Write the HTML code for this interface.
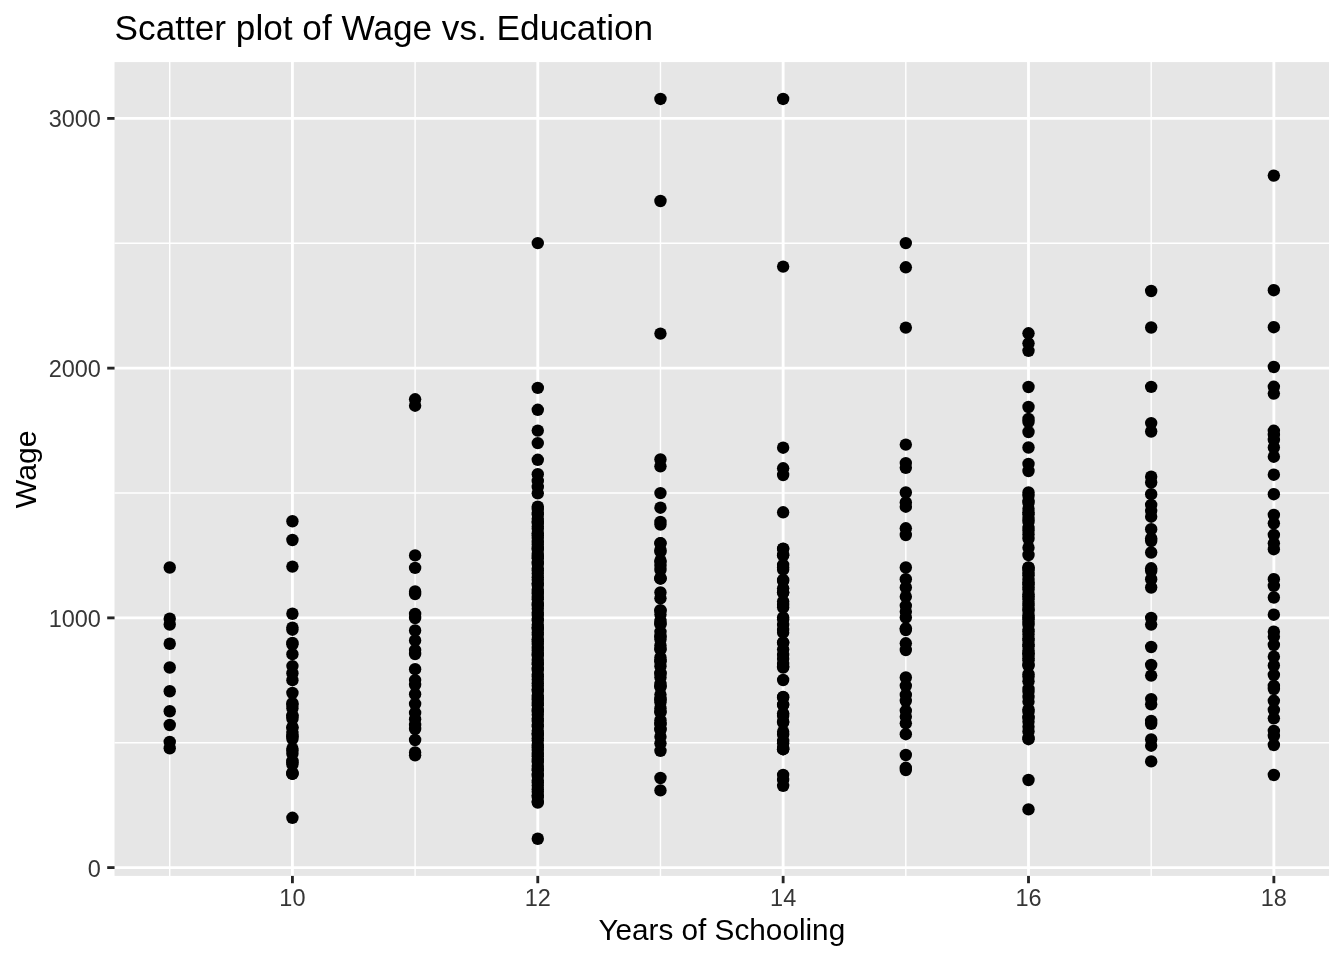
<!DOCTYPE html>
<html><head><meta charset="utf-8"><title>Scatter plot of Wage vs. Education</title>
<style>html,body{margin:0;padding:0;background:#fff;width:1344px;height:960px;overflow:hidden}svg{display:block;will-change:transform}text{font-family:"Liberation Sans",sans-serif}</style>
</head><body>
<svg width="1344" height="960" viewBox="0 0 1344 960" font-family="Liberation Sans, sans-serif"><rect x="0" y="0" width="1344" height="960" fill="#FFFFFF"/>
<rect x="114.53" y="62.1" width="1214.54" height="813.80" fill="#E6E6E6"/>
<line x1="169.74" y1="62.1" x2="169.74" y2="875.9" stroke="#FFFFFF" stroke-width="1.42"/>
<line x1="415.10" y1="62.1" x2="415.10" y2="875.9" stroke="#FFFFFF" stroke-width="1.42"/>
<line x1="660.46" y1="62.1" x2="660.46" y2="875.9" stroke="#FFFFFF" stroke-width="1.42"/>
<line x1="905.82" y1="62.1" x2="905.82" y2="875.9" stroke="#FFFFFF" stroke-width="1.42"/>
<line x1="1151.18" y1="62.1" x2="1151.18" y2="875.9" stroke="#FFFFFF" stroke-width="1.42"/>
<line x1="114.53" y1="742.74" x2="1329.07" y2="742.74" stroke="#FFFFFF" stroke-width="1.42"/>
<line x1="114.53" y1="493.00" x2="1329.07" y2="493.00" stroke="#FFFFFF" stroke-width="1.42"/>
<line x1="114.53" y1="243.27" x2="1329.07" y2="243.27" stroke="#FFFFFF" stroke-width="1.42"/>
<line x1="292.42" y1="62.1" x2="292.42" y2="875.9" stroke="#FFFFFF" stroke-width="2.84"/>
<line x1="537.78" y1="62.1" x2="537.78" y2="875.9" stroke="#FFFFFF" stroke-width="2.84"/>
<line x1="783.14" y1="62.1" x2="783.14" y2="875.9" stroke="#FFFFFF" stroke-width="2.84"/>
<line x1="1028.50" y1="62.1" x2="1028.50" y2="875.9" stroke="#FFFFFF" stroke-width="2.84"/>
<line x1="1273.86" y1="62.1" x2="1273.86" y2="875.9" stroke="#FFFFFF" stroke-width="2.84"/>
<line x1="114.53" y1="867.60" x2="1329.07" y2="867.60" stroke="#FFFFFF" stroke-width="2.84"/>
<line x1="114.53" y1="617.87" x2="1329.07" y2="617.87" stroke="#FFFFFF" stroke-width="2.84"/>
<line x1="114.53" y1="368.14" x2="1329.07" y2="368.14" stroke="#FFFFFF" stroke-width="2.84"/>
<line x1="114.53" y1="118.41" x2="1329.07" y2="118.41" stroke="#FFFFFF" stroke-width="2.84"/>
<g fill="#000000"><circle cx="169.74" cy="567.50" r="6.2"/><circle cx="169.74" cy="618.75" r="6.2"/><circle cx="169.74" cy="624.50" r="6.2"/><circle cx="169.74" cy="643.75" r="6.2"/><circle cx="169.74" cy="667.50" r="6.2"/><circle cx="169.74" cy="691.25" r="6.2"/><circle cx="169.74" cy="711.25" r="6.2"/><circle cx="169.74" cy="725.00" r="6.2"/><circle cx="169.74" cy="742.00" r="6.2"/><circle cx="169.74" cy="748.25" r="6.2"/><circle cx="292.42" cy="521.25" r="6.2"/><circle cx="292.42" cy="540.00" r="6.2"/><circle cx="292.42" cy="566.60" r="6.2"/><circle cx="292.42" cy="613.75" r="6.2"/><circle cx="292.42" cy="627.60" r="6.2"/><circle cx="292.42" cy="629.70" r="6.2"/><circle cx="292.42" cy="642.90" r="6.2"/><circle cx="292.42" cy="644.30" r="6.2"/><circle cx="292.42" cy="654.20" r="6.2"/><circle cx="292.42" cy="666.10" r="6.2"/><circle cx="292.42" cy="680.20" r="6.2"/><circle cx="292.42" cy="693.00" r="6.2"/><circle cx="292.42" cy="817.80" r="6.2"/><circle cx="292.42" cy="673.15" r="6.2"/><circle cx="292.42" cy="704.53" r="6.2"/><circle cx="292.42" cy="716.06" r="6.2"/><circle cx="292.42" cy="727.59" r="6.2"/><circle cx="292.42" cy="739.11" r="6.2"/><circle cx="292.42" cy="750.64" r="6.2"/><circle cx="292.42" cy="762.17" r="6.2"/><circle cx="292.42" cy="773.70" r="6.2"/><circle cx="292.42" cy="703.20" r="6.2"/><circle cx="292.42" cy="708.15" r="6.2"/><circle cx="292.42" cy="715.35" r="6.2"/><circle cx="292.42" cy="718.95" r="6.2"/><circle cx="292.42" cy="727.50" r="6.2"/><circle cx="292.42" cy="732.90" r="6.2"/><circle cx="292.42" cy="736.05" r="6.2"/><circle cx="292.42" cy="736.30" r="6.2"/><circle cx="292.42" cy="748.70" r="6.2"/><circle cx="292.42" cy="753.65" r="6.2"/><circle cx="292.42" cy="760.85" r="6.2"/><circle cx="292.42" cy="764.45" r="6.2"/><circle cx="292.42" cy="773.00" r="6.2"/><circle cx="292.42" cy="773.90" r="6.2"/><circle cx="415.10" cy="399.30" r="6.2"/><circle cx="415.10" cy="405.70" r="6.2"/><circle cx="415.10" cy="555.40" r="6.2"/><circle cx="415.10" cy="567.90" r="6.2"/><circle cx="415.10" cy="591.40" r="6.2"/><circle cx="415.10" cy="594.00" r="6.2"/><circle cx="415.10" cy="614.00" r="6.2"/><circle cx="415.10" cy="618.00" r="6.2"/><circle cx="415.10" cy="630.50" r="6.2"/><circle cx="415.10" cy="640.40" r="6.2"/><circle cx="415.10" cy="654.00" r="6.2"/><circle cx="415.10" cy="669.20" r="6.2"/><circle cx="415.10" cy="680.10" r="6.2"/><circle cx="415.10" cy="684.80" r="6.2"/><circle cx="415.10" cy="694.20" r="6.2"/><circle cx="415.10" cy="704.00" r="6.2"/><circle cx="415.10" cy="712.90" r="6.2"/><circle cx="415.10" cy="719.20" r="6.2"/><circle cx="415.10" cy="725.00" r="6.2"/><circle cx="415.10" cy="729.00" r="6.2"/><circle cx="415.10" cy="740.00" r="6.2"/><circle cx="415.10" cy="752.50" r="6.2"/><circle cx="415.10" cy="755.30" r="6.2"/><circle cx="415.10" cy="650.05" r="6.2"/><circle cx="537.78" cy="243.10" r="6.2"/><circle cx="537.78" cy="387.90" r="6.2"/><circle cx="537.78" cy="409.80" r="6.2"/><circle cx="537.78" cy="430.60" r="6.2"/><circle cx="537.78" cy="443.10" r="6.2"/><circle cx="537.78" cy="459.80" r="6.2"/><circle cx="537.78" cy="474.20" r="6.2"/><circle cx="537.78" cy="481.00" r="6.2"/><circle cx="537.78" cy="487.00" r="6.2"/><circle cx="537.78" cy="493.30" r="6.2"/><circle cx="537.78" cy="838.75" r="6.2"/><circle cx="537.78" cy="506.60" r="6.2"/><circle cx="537.78" cy="509.07" r="6.2"/><circle cx="537.78" cy="512.67" r="6.2"/><circle cx="537.78" cy="514.47" r="6.2"/><circle cx="537.78" cy="518.75" r="6.2"/><circle cx="537.78" cy="521.45" r="6.2"/><circle cx="537.78" cy="523.02" r="6.2"/><circle cx="537.78" cy="526.40" r="6.2"/><circle cx="537.78" cy="528.65" r="6.2"/><circle cx="537.78" cy="533.15" r="6.2"/><circle cx="537.78" cy="535.17" r="6.2"/><circle cx="537.78" cy="538.10" r="6.2"/><circle cx="537.78" cy="541.92" r="6.2"/><circle cx="537.78" cy="544.40" r="6.2"/><circle cx="537.78" cy="548.00" r="6.2"/><circle cx="537.78" cy="549.80" r="6.2"/><circle cx="537.78" cy="554.07" r="6.2"/><circle cx="537.78" cy="556.77" r="6.2"/><circle cx="537.78" cy="558.35" r="6.2"/><circle cx="537.78" cy="561.73" r="6.2"/><circle cx="537.78" cy="563.98" r="6.2"/><circle cx="537.78" cy="568.48" r="6.2"/><circle cx="537.78" cy="570.50" r="6.2"/><circle cx="537.78" cy="573.42" r="6.2"/><circle cx="537.78" cy="577.25" r="6.2"/><circle cx="537.78" cy="579.73" r="6.2"/><circle cx="537.78" cy="583.33" r="6.2"/><circle cx="537.78" cy="585.12" r="6.2"/><circle cx="537.78" cy="589.40" r="6.2"/><circle cx="537.78" cy="592.10" r="6.2"/><circle cx="537.78" cy="593.68" r="6.2"/><circle cx="537.78" cy="597.05" r="6.2"/><circle cx="537.78" cy="599.30" r="6.2"/><circle cx="537.78" cy="603.80" r="6.2"/><circle cx="537.78" cy="605.83" r="6.2"/><circle cx="537.78" cy="608.75" r="6.2"/><circle cx="537.78" cy="612.58" r="6.2"/><circle cx="537.78" cy="615.05" r="6.2"/><circle cx="537.78" cy="618.65" r="6.2"/><circle cx="537.78" cy="620.45" r="6.2"/><circle cx="537.78" cy="624.73" r="6.2"/><circle cx="537.78" cy="627.43" r="6.2"/><circle cx="537.78" cy="629.00" r="6.2"/><circle cx="537.78" cy="632.38" r="6.2"/><circle cx="537.78" cy="634.63" r="6.2"/><circle cx="537.78" cy="639.13" r="6.2"/><circle cx="537.78" cy="641.15" r="6.2"/><circle cx="537.78" cy="644.08" r="6.2"/><circle cx="537.78" cy="647.90" r="6.2"/><circle cx="537.78" cy="650.38" r="6.2"/><circle cx="537.78" cy="653.98" r="6.2"/><circle cx="537.78" cy="655.78" r="6.2"/><circle cx="537.78" cy="660.05" r="6.2"/><circle cx="537.78" cy="662.75" r="6.2"/><circle cx="537.78" cy="664.33" r="6.2"/><circle cx="537.78" cy="667.70" r="6.2"/><circle cx="537.78" cy="669.95" r="6.2"/><circle cx="537.78" cy="674.45" r="6.2"/><circle cx="537.78" cy="676.48" r="6.2"/><circle cx="537.78" cy="679.40" r="6.2"/><circle cx="537.78" cy="683.23" r="6.2"/><circle cx="537.78" cy="685.70" r="6.2"/><circle cx="537.78" cy="689.30" r="6.2"/><circle cx="537.78" cy="691.10" r="6.2"/><circle cx="537.78" cy="695.38" r="6.2"/><circle cx="537.78" cy="698.08" r="6.2"/><circle cx="537.78" cy="699.65" r="6.2"/><circle cx="537.78" cy="703.03" r="6.2"/><circle cx="537.78" cy="705.28" r="6.2"/><circle cx="537.78" cy="709.78" r="6.2"/><circle cx="537.78" cy="711.80" r="6.2"/><circle cx="537.78" cy="714.73" r="6.2"/><circle cx="537.78" cy="718.55" r="6.2"/><circle cx="537.78" cy="721.03" r="6.2"/><circle cx="537.78" cy="724.63" r="6.2"/><circle cx="537.78" cy="726.43" r="6.2"/><circle cx="537.78" cy="730.70" r="6.2"/><circle cx="537.78" cy="733.40" r="6.2"/><circle cx="537.78" cy="734.98" r="6.2"/><circle cx="537.78" cy="738.35" r="6.2"/><circle cx="537.78" cy="740.60" r="6.2"/><circle cx="537.78" cy="745.10" r="6.2"/><circle cx="537.78" cy="747.13" r="6.2"/><circle cx="537.78" cy="750.05" r="6.2"/><circle cx="537.78" cy="753.88" r="6.2"/><circle cx="537.78" cy="756.35" r="6.2"/><circle cx="537.78" cy="759.95" r="6.2"/><circle cx="537.78" cy="761.75" r="6.2"/><circle cx="537.78" cy="766.03" r="6.2"/><circle cx="537.78" cy="768.73" r="6.2"/><circle cx="537.78" cy="770.30" r="6.2"/><circle cx="537.78" cy="773.68" r="6.2"/><circle cx="537.78" cy="775.93" r="6.2"/><circle cx="537.78" cy="780.43" r="6.2"/><circle cx="537.78" cy="782.45" r="6.2"/><circle cx="537.78" cy="785.38" r="6.2"/><circle cx="537.78" cy="789.20" r="6.2"/><circle cx="537.78" cy="791.68" r="6.2"/><circle cx="537.78" cy="795.28" r="6.2"/><circle cx="537.78" cy="797.08" r="6.2"/><circle cx="537.78" cy="801.35" r="6.2"/><circle cx="537.78" cy="802.55" r="6.2"/><circle cx="660.46" cy="98.95" r="6.2"/><circle cx="660.46" cy="201.00" r="6.2"/><circle cx="660.46" cy="333.60" r="6.2"/><circle cx="660.46" cy="459.50" r="6.2"/><circle cx="660.46" cy="466.30" r="6.2"/><circle cx="660.46" cy="493.10" r="6.2"/><circle cx="660.46" cy="507.70" r="6.2"/><circle cx="660.46" cy="522.00" r="6.2"/><circle cx="660.46" cy="524.60" r="6.2"/><circle cx="660.46" cy="543.30" r="6.2"/><circle cx="660.46" cy="551.70" r="6.2"/><circle cx="660.46" cy="561.70" r="6.2"/><circle cx="660.46" cy="570.00" r="6.2"/><circle cx="660.46" cy="578.30" r="6.2"/><circle cx="660.46" cy="592.50" r="6.2"/><circle cx="660.46" cy="598.30" r="6.2"/><circle cx="660.46" cy="736.70" r="6.2"/><circle cx="660.46" cy="743.30" r="6.2"/><circle cx="660.46" cy="750.80" r="6.2"/><circle cx="660.46" cy="778.00" r="6.2"/><circle cx="660.46" cy="790.40" r="6.2"/><circle cx="660.46" cy="610.88" r="6.2"/><circle cx="660.46" cy="623.46" r="6.2"/><circle cx="660.46" cy="636.05" r="6.2"/><circle cx="660.46" cy="648.63" r="6.2"/><circle cx="660.46" cy="661.21" r="6.2"/><circle cx="660.46" cy="673.79" r="6.2"/><circle cx="660.46" cy="686.37" r="6.2"/><circle cx="660.46" cy="698.95" r="6.2"/><circle cx="660.46" cy="711.54" r="6.2"/><circle cx="660.46" cy="724.12" r="6.2"/><circle cx="660.46" cy="543.10" r="6.2"/><circle cx="660.46" cy="550.25" r="6.2"/><circle cx="660.46" cy="560.65" r="6.2"/><circle cx="660.46" cy="565.85" r="6.2"/><circle cx="660.46" cy="578.20" r="6.2"/><circle cx="660.46" cy="578.60" r="6.2"/><circle cx="660.46" cy="610.20" r="6.2"/><circle cx="660.46" cy="614.60" r="6.2"/><circle cx="660.46" cy="621.00" r="6.2"/><circle cx="660.46" cy="624.20" r="6.2"/><circle cx="660.46" cy="631.80" r="6.2"/><circle cx="660.46" cy="636.60" r="6.2"/><circle cx="660.46" cy="639.40" r="6.2"/><circle cx="660.46" cy="645.40" r="6.2"/><circle cx="660.46" cy="649.40" r="6.2"/><circle cx="660.46" cy="657.40" r="6.2"/><circle cx="660.46" cy="661.00" r="6.2"/><circle cx="660.46" cy="666.20" r="6.2"/><circle cx="660.46" cy="673.00" r="6.2"/><circle cx="660.46" cy="677.40" r="6.2"/><circle cx="660.46" cy="683.80" r="6.2"/><circle cx="660.46" cy="687.00" r="6.2"/><circle cx="660.46" cy="694.60" r="6.2"/><circle cx="660.46" cy="699.40" r="6.2"/><circle cx="660.46" cy="702.20" r="6.2"/><circle cx="660.46" cy="708.20" r="6.2"/><circle cx="660.46" cy="712.20" r="6.2"/><circle cx="660.46" cy="720.20" r="6.2"/><circle cx="660.46" cy="723.80" r="6.2"/><circle cx="660.46" cy="729.00" r="6.2"/><circle cx="660.46" cy="729.80" r="6.2"/><circle cx="783.14" cy="98.95" r="6.2"/><circle cx="783.14" cy="266.60" r="6.2"/><circle cx="783.14" cy="447.70" r="6.2"/><circle cx="783.14" cy="468.30" r="6.2"/><circle cx="783.14" cy="475.00" r="6.2"/><circle cx="783.14" cy="512.30" r="6.2"/><circle cx="783.14" cy="549.00" r="6.2"/><circle cx="783.14" cy="555.00" r="6.2"/><circle cx="783.14" cy="680.00" r="6.2"/><circle cx="783.14" cy="697.50" r="6.2"/><circle cx="783.14" cy="705.00" r="6.2"/><circle cx="783.14" cy="713.30" r="6.2"/><circle cx="783.14" cy="722.50" r="6.2"/><circle cx="783.14" cy="731.70" r="6.2"/><circle cx="783.14" cy="740.80" r="6.2"/><circle cx="783.14" cy="749.20" r="6.2"/><circle cx="783.14" cy="775.00" r="6.2"/><circle cx="783.14" cy="780.00" r="6.2"/><circle cx="783.14" cy="785.80" r="6.2"/><circle cx="783.14" cy="567.50" r="6.2"/><circle cx="783.14" cy="580.00" r="6.2"/><circle cx="783.14" cy="592.50" r="6.2"/><circle cx="783.14" cy="605.00" r="6.2"/><circle cx="783.14" cy="617.50" r="6.2"/><circle cx="783.14" cy="630.00" r="6.2"/><circle cx="783.14" cy="642.50" r="6.2"/><circle cx="783.14" cy="655.00" r="6.2"/><circle cx="783.14" cy="667.50" r="6.2"/><circle cx="783.14" cy="548.70" r="6.2"/><circle cx="783.14" cy="555.30" r="6.2"/><circle cx="783.14" cy="564.90" r="6.2"/><circle cx="783.14" cy="569.70" r="6.2"/><circle cx="783.14" cy="581.10" r="6.2"/><circle cx="783.14" cy="588.30" r="6.2"/><circle cx="783.14" cy="592.50" r="6.2"/><circle cx="783.14" cy="601.50" r="6.2"/><circle cx="783.14" cy="607.50" r="6.2"/><circle cx="783.14" cy="619.50" r="6.2"/><circle cx="783.14" cy="624.90" r="6.2"/><circle cx="783.14" cy="632.70" r="6.2"/><circle cx="783.14" cy="642.90" r="6.2"/><circle cx="783.14" cy="649.50" r="6.2"/><circle cx="783.14" cy="659.10" r="6.2"/><circle cx="783.14" cy="663.90" r="6.2"/><circle cx="783.14" cy="666.30" r="6.2"/><circle cx="783.14" cy="697.00" r="6.2"/><circle cx="783.14" cy="704.70" r="6.2"/><circle cx="783.14" cy="715.90" r="6.2"/><circle cx="783.14" cy="721.50" r="6.2"/><circle cx="783.14" cy="734.80" r="6.2"/><circle cx="783.14" cy="743.20" r="6.2"/><circle cx="783.14" cy="748.10" r="6.2"/><circle cx="783.14" cy="749.20" r="6.2"/><circle cx="905.82" cy="243.10" r="6.2"/><circle cx="905.82" cy="267.30" r="6.2"/><circle cx="905.82" cy="327.60" r="6.2"/><circle cx="905.82" cy="444.60" r="6.2"/><circle cx="905.82" cy="463.10" r="6.2"/><circle cx="905.82" cy="467.75" r="6.2"/><circle cx="905.82" cy="492.50" r="6.2"/><circle cx="905.82" cy="502.50" r="6.2"/><circle cx="905.82" cy="506.70" r="6.2"/><circle cx="905.82" cy="528.30" r="6.2"/><circle cx="905.82" cy="535.00" r="6.2"/><circle cx="905.82" cy="567.50" r="6.2"/><circle cx="905.82" cy="579.20" r="6.2"/><circle cx="905.82" cy="587.50" r="6.2"/><circle cx="905.82" cy="596.70" r="6.2"/><circle cx="905.82" cy="605.80" r="6.2"/><circle cx="905.82" cy="611.70" r="6.2"/><circle cx="905.82" cy="617.50" r="6.2"/><circle cx="905.82" cy="628.30" r="6.2"/><circle cx="905.82" cy="630.00" r="6.2"/><circle cx="905.82" cy="643.30" r="6.2"/><circle cx="905.82" cy="650.00" r="6.2"/><circle cx="905.82" cy="677.50" r="6.2"/><circle cx="905.82" cy="685.80" r="6.2"/><circle cx="905.82" cy="695.00" r="6.2"/><circle cx="905.82" cy="700.80" r="6.2"/><circle cx="905.82" cy="710.80" r="6.2"/><circle cx="905.82" cy="716.70" r="6.2"/><circle cx="905.82" cy="723.30" r="6.2"/><circle cx="905.82" cy="734.20" r="6.2"/><circle cx="905.82" cy="755.00" r="6.2"/><circle cx="905.82" cy="767.80" r="6.2"/><circle cx="905.82" cy="770.00" r="6.2"/><circle cx="1028.50" cy="333.30" r="6.2"/><circle cx="1028.50" cy="343.30" r="6.2"/><circle cx="1028.50" cy="350.80" r="6.2"/><circle cx="1028.50" cy="387.00" r="6.2"/><circle cx="1028.50" cy="407.00" r="6.2"/><circle cx="1028.50" cy="419.00" r="6.2"/><circle cx="1028.50" cy="422.00" r="6.2"/><circle cx="1028.50" cy="432.00" r="6.2"/><circle cx="1028.50" cy="447.50" r="6.2"/><circle cx="1028.50" cy="464.00" r="6.2"/><circle cx="1028.50" cy="471.00" r="6.2"/><circle cx="1028.50" cy="547.70" r="6.2"/><circle cx="1028.50" cy="555.00" r="6.2"/><circle cx="1028.50" cy="567.50" r="6.2"/><circle cx="1028.50" cy="676.70" r="6.2"/><circle cx="1028.50" cy="689.00" r="6.2"/><circle cx="1028.50" cy="701.70" r="6.2"/><circle cx="1028.50" cy="712.00" r="6.2"/><circle cx="1028.50" cy="718.00" r="6.2"/><circle cx="1028.50" cy="726.70" r="6.2"/><circle cx="1028.50" cy="780.00" r="6.2"/><circle cx="1028.50" cy="809.40" r="6.2"/><circle cx="1028.50" cy="492.50" r="6.2"/><circle cx="1028.50" cy="495.80" r="6.2"/><circle cx="1028.50" cy="500.60" r="6.2"/><circle cx="1028.50" cy="503.00" r="6.2"/><circle cx="1028.50" cy="508.70" r="6.2"/><circle cx="1028.50" cy="512.30" r="6.2"/><circle cx="1028.50" cy="514.40" r="6.2"/><circle cx="1028.50" cy="518.90" r="6.2"/><circle cx="1028.50" cy="521.90" r="6.2"/><circle cx="1028.50" cy="527.90" r="6.2"/><circle cx="1028.50" cy="530.60" r="6.2"/><circle cx="1028.50" cy="534.50" r="6.2"/><circle cx="1028.50" cy="538.80" r="6.2"/><circle cx="1028.50" cy="567.70" r="6.2"/><circle cx="1028.50" cy="570.18" r="6.2"/><circle cx="1028.50" cy="573.78" r="6.2"/><circle cx="1028.50" cy="575.58" r="6.2"/><circle cx="1028.50" cy="579.85" r="6.2"/><circle cx="1028.50" cy="582.55" r="6.2"/><circle cx="1028.50" cy="584.13" r="6.2"/><circle cx="1028.50" cy="587.50" r="6.2"/><circle cx="1028.50" cy="589.75" r="6.2"/><circle cx="1028.50" cy="594.25" r="6.2"/><circle cx="1028.50" cy="596.28" r="6.2"/><circle cx="1028.50" cy="599.20" r="6.2"/><circle cx="1028.50" cy="603.03" r="6.2"/><circle cx="1028.50" cy="605.50" r="6.2"/><circle cx="1028.50" cy="609.10" r="6.2"/><circle cx="1028.50" cy="610.90" r="6.2"/><circle cx="1028.50" cy="615.18" r="6.2"/><circle cx="1028.50" cy="617.88" r="6.2"/><circle cx="1028.50" cy="619.45" r="6.2"/><circle cx="1028.50" cy="622.83" r="6.2"/><circle cx="1028.50" cy="625.08" r="6.2"/><circle cx="1028.50" cy="629.58" r="6.2"/><circle cx="1028.50" cy="631.60" r="6.2"/><circle cx="1028.50" cy="634.53" r="6.2"/><circle cx="1028.50" cy="638.35" r="6.2"/><circle cx="1028.50" cy="640.83" r="6.2"/><circle cx="1028.50" cy="644.43" r="6.2"/><circle cx="1028.50" cy="646.23" r="6.2"/><circle cx="1028.50" cy="650.50" r="6.2"/><circle cx="1028.50" cy="653.20" r="6.2"/><circle cx="1028.50" cy="654.78" r="6.2"/><circle cx="1028.50" cy="658.15" r="6.2"/><circle cx="1028.50" cy="660.40" r="6.2"/><circle cx="1028.50" cy="664.90" r="6.2"/><circle cx="1028.50" cy="665.80" r="6.2"/><circle cx="1028.50" cy="674.20" r="6.2"/><circle cx="1028.50" cy="681.35" r="6.2"/><circle cx="1028.50" cy="691.75" r="6.2"/><circle cx="1028.50" cy="696.95" r="6.2"/><circle cx="1028.50" cy="709.30" r="6.2"/><circle cx="1028.50" cy="717.10" r="6.2"/><circle cx="1028.50" cy="721.65" r="6.2"/><circle cx="1028.50" cy="731.40" r="6.2"/><circle cx="1028.50" cy="737.90" r="6.2"/><circle cx="1028.50" cy="739.20" r="6.2"/><circle cx="1151.18" cy="291.00" r="6.2"/><circle cx="1151.18" cy="327.50" r="6.2"/><circle cx="1151.18" cy="386.90" r="6.2"/><circle cx="1151.18" cy="423.10" r="6.2"/><circle cx="1151.18" cy="431.50" r="6.2"/><circle cx="1151.18" cy="476.70" r="6.2"/><circle cx="1151.18" cy="482.50" r="6.2"/><circle cx="1151.18" cy="494.20" r="6.2"/><circle cx="1151.18" cy="505.00" r="6.2"/><circle cx="1151.18" cy="510.80" r="6.2"/><circle cx="1151.18" cy="516.70" r="6.2"/><circle cx="1151.18" cy="529.20" r="6.2"/><circle cx="1151.18" cy="538.30" r="6.2"/><circle cx="1151.18" cy="541.00" r="6.2"/><circle cx="1151.18" cy="552.50" r="6.2"/><circle cx="1151.18" cy="568.30" r="6.2"/><circle cx="1151.18" cy="571.00" r="6.2"/><circle cx="1151.18" cy="579.20" r="6.2"/><circle cx="1151.18" cy="587.50" r="6.2"/><circle cx="1151.18" cy="617.90" r="6.2"/><circle cx="1151.18" cy="624.60" r="6.2"/><circle cx="1151.18" cy="647.00" r="6.2"/><circle cx="1151.18" cy="665.00" r="6.2"/><circle cx="1151.18" cy="675.60" r="6.2"/><circle cx="1151.18" cy="699.10" r="6.2"/><circle cx="1151.18" cy="704.30" r="6.2"/><circle cx="1151.18" cy="721.00" r="6.2"/><circle cx="1151.18" cy="723.80" r="6.2"/><circle cx="1151.18" cy="739.40" r="6.2"/><circle cx="1151.18" cy="745.70" r="6.2"/><circle cx="1151.18" cy="761.40" r="6.2"/><circle cx="1273.86" cy="175.60" r="6.2"/><circle cx="1273.86" cy="290.20" r="6.2"/><circle cx="1273.86" cy="327.20" r="6.2"/><circle cx="1273.86" cy="367.00" r="6.2"/><circle cx="1273.86" cy="386.80" r="6.2"/><circle cx="1273.86" cy="393.60" r="6.2"/><circle cx="1273.86" cy="430.80" r="6.2"/><circle cx="1273.86" cy="435.00" r="6.2"/><circle cx="1273.86" cy="440.00" r="6.2"/><circle cx="1273.86" cy="447.50" r="6.2"/><circle cx="1273.86" cy="456.70" r="6.2"/><circle cx="1273.86" cy="474.70" r="6.2"/><circle cx="1273.86" cy="494.20" r="6.2"/><circle cx="1273.86" cy="515.00" r="6.2"/><circle cx="1273.86" cy="523.30" r="6.2"/><circle cx="1273.86" cy="535.00" r="6.2"/><circle cx="1273.86" cy="543.30" r="6.2"/><circle cx="1273.86" cy="549.20" r="6.2"/><circle cx="1273.86" cy="579.20" r="6.2"/><circle cx="1273.86" cy="585.80" r="6.2"/><circle cx="1273.86" cy="597.50" r="6.2"/><circle cx="1273.86" cy="614.70" r="6.2"/><circle cx="1273.86" cy="631.70" r="6.2"/><circle cx="1273.86" cy="636.70" r="6.2"/><circle cx="1273.86" cy="645.00" r="6.2"/><circle cx="1273.86" cy="656.70" r="6.2"/><circle cx="1273.86" cy="665.50" r="6.2"/><circle cx="1273.86" cy="675.00" r="6.2"/><circle cx="1273.86" cy="686.00" r="6.2"/><circle cx="1273.86" cy="689.00" r="6.2"/><circle cx="1273.86" cy="700.80" r="6.2"/><circle cx="1273.86" cy="710.00" r="6.2"/><circle cx="1273.86" cy="718.30" r="6.2"/><circle cx="1273.86" cy="731.00" r="6.2"/><circle cx="1273.86" cy="736.00" r="6.2"/><circle cx="1273.86" cy="745.00" r="6.2"/><circle cx="1273.86" cy="775.00" r="6.2"/></g>
<line x1="292.42" y1="875.9" x2="292.42" y2="883.23" stroke="#252525" stroke-width="2.84"/>
<line x1="537.78" y1="875.9" x2="537.78" y2="883.23" stroke="#252525" stroke-width="2.84"/>
<line x1="783.14" y1="875.9" x2="783.14" y2="883.23" stroke="#252525" stroke-width="2.84"/>
<line x1="1028.50" y1="875.9" x2="1028.50" y2="883.23" stroke="#252525" stroke-width="2.84"/>
<line x1="1273.86" y1="875.9" x2="1273.86" y2="883.23" stroke="#252525" stroke-width="2.84"/>
<line x1="107.20" y1="867.60" x2="114.53" y2="867.60" stroke="#252525" stroke-width="2.84"/>
<line x1="107.20" y1="617.87" x2="114.53" y2="617.87" stroke="#252525" stroke-width="2.84"/>
<line x1="107.20" y1="368.14" x2="114.53" y2="368.14" stroke="#252525" stroke-width="2.84"/>
<line x1="107.20" y1="118.41" x2="114.53" y2="118.41" stroke="#252525" stroke-width="2.84"/>
<text x="292.42" y="905.80" text-anchor="middle" font-size="23.47" fill="#363636">10</text>
<text x="537.78" y="905.80" text-anchor="middle" font-size="23.47" fill="#363636">12</text>
<text x="783.14" y="905.80" text-anchor="middle" font-size="23.47" fill="#363636">14</text>
<text x="1028.50" y="905.80" text-anchor="middle" font-size="23.47" fill="#363636">16</text>
<text x="1273.86" y="905.80" text-anchor="middle" font-size="23.47" fill="#363636">18</text>
<text x="100.90" y="877.30" text-anchor="end" font-size="23.47" fill="#363636">0</text>
<text x="100.90" y="627.20" text-anchor="end" font-size="23.47" fill="#363636">1000</text>
<text x="100.90" y="377.20" text-anchor="end" font-size="23.47" fill="#363636">2000</text>
<text x="100.90" y="127.20" text-anchor="end" font-size="23.47" fill="#363636">3000</text>
<text x="721.80" y="939.6" text-anchor="middle" font-size="29.33" fill="#000000" textLength="246.8" lengthAdjust="spacingAndGlyphs">Years of Schooling</text>
<text transform="translate(35.6 469.3) rotate(-90)" x="0" y="0" text-anchor="middle" font-size="30.2" fill="#000000">Wage</text>
<text x="114.6" y="40" font-size="35.2" fill="#000000">Scatter plot of Wage vs. Education</text></svg>
</body></html>
